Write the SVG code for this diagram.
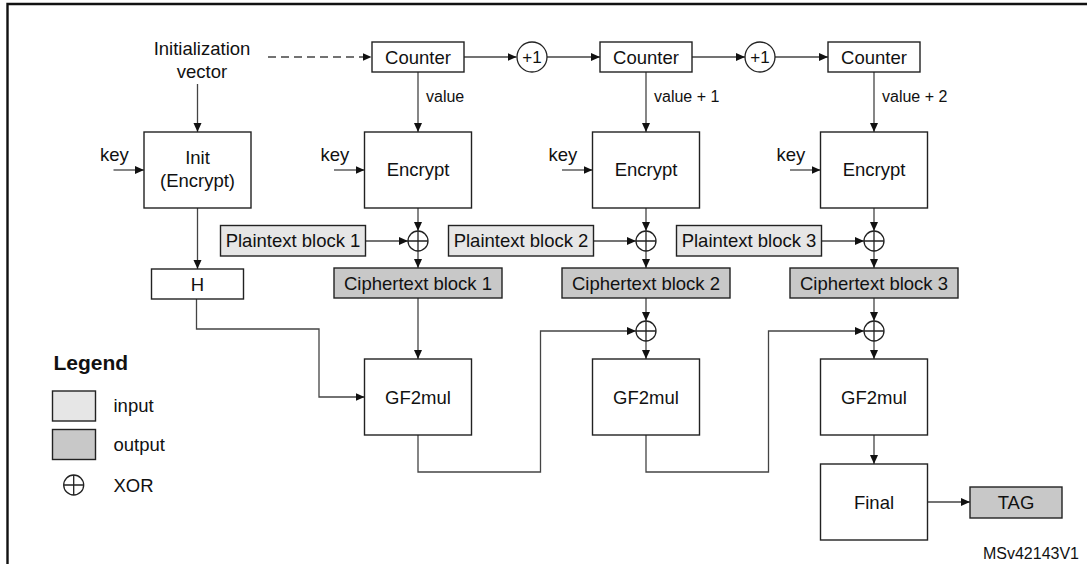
<svg xmlns="http://www.w3.org/2000/svg" width="1087" height="564" viewBox="0 0 1087 564">
<style>
text{font-family:"Liberation Sans",Arial,sans-serif;font-size:18.5px;fill:#111}
.c{text-anchor:middle}
.s{font-size:16px}
.p{font-size:17px}
.box{fill:#fff;stroke:#222;stroke-width:1.4}
.in{fill:#e6e6e6;stroke:#222;stroke-width:1.4}
.out{fill:#c8c8c8;stroke:#222;stroke-width:1.4}
.x{fill:none;stroke:#222;stroke-width:1.3}
.ln{fill:none;stroke:#444;stroke-width:1.3}
.ar{fill:none;stroke:#444;stroke-width:1.3;marker-end:url(#ah)}
</style>
<defs>
<marker id="ah" markerUnits="userSpaceOnUse" markerWidth="10" markerHeight="9" refX="9" refY="4" orient="auto">
<path d="M0,0 L9,4 L0,8 z" fill="#111"/>
</marker>
<g id="xor"><circle r="10" class="x"/><path d="M-10,0 H10 M0,-10 V10" class="x"/></g>
</defs>
<rect width="1087" height="564" fill="#fff"/>
<path d="M7.5,564 V4 H1087" fill="none" stroke="#111" stroke-width="2.4"/>

<g id="connectors">
<path d="M268,57 H371.5" class="ar" stroke-dasharray="8,5"/>
<path d="M463.5,57 H516.5" class="ar"/>
<path d="M547,57 H600" class="ar"/>
<path d="M692,57 H745" class="ar"/>
<path d="M775,57 H828" class="ar"/>
<path d="M418,72 V132" class="ar"/>
<path d="M646,72 V132" class="ar"/>
<path d="M874,72 V132" class="ar"/>
<path d="M197.5,84 V132" class="ar"/>
<path d="M113.5,170 H144" class="ar"/>
<path d="M334,170 H364.5" class="ar"/>
<path d="M562,170 H592.5" class="ar"/>
<path d="M790,170 H820.5" class="ar"/>
<path d="M418,208 V231" class="ar"/>
<path d="M646,208 V231" class="ar"/>
<path d="M874,208 V231" class="ar"/>
<path d="M365.5,241 H408" class="ar"/>
<path d="M593.5,241 H636" class="ar"/>
<path d="M821.5,241 H864" class="ar"/>
<path d="M418,251 V268" class="ar"/>
<path d="M646,251 V268" class="ar"/>
<path d="M874,251 V268" class="ar"/>
<path d="M197.5,208 V269" class="ar"/>
<path d="M196.5,299 V329 H319 V397 H364.5" class="ar"/>
<path d="M418,298 V359" class="ar"/>
<path d="M646,298 V321" class="ar"/>
<path d="M646,341 V359" class="ar"/>
<path d="M874,298 V321" class="ar"/>
<path d="M874,341 V359" class="ar"/>
<path d="M418,435 V472 H540.5 V331 H636" class="ar"/>
<path d="M646,435 V472 H768.5 V331 H864" class="ar"/>
<path d="M874,435 V464" class="ar"/>
<path d="M927.5,502 H970" class="ar"/>
</g>

<g id="iv"><text x="202" y="55" class="c">Initialization</text><text x="202" y="78" class="c">vector</text></g>

<g id="counter1"><rect x="372" y="42" width="92" height="30" class="box"/><text x="418" y="63.5" class="c">Counter</text></g>
<g id="counter2"><rect x="600" y="42" width="92" height="30" class="box"/><text x="646" y="63.5" class="c">Counter</text></g>
<g id="counter3"><rect x="828" y="42" width="92" height="30" class="box"/><text x="874" y="63.5" class="c">Counter</text></g>

<g id="inc1"><circle cx="532" cy="57" r="15" class="x"/><text x="532" y="63" class="c p">+1</text></g>
<g id="inc2"><circle cx="760" cy="57" r="15" class="x"/><text x="760" y="63" class="c p">+1</text></g>

<g id="labels">
<text x="426" y="102" class="s">value</text>
<text x="654" y="102" class="s">value + 1</text>
<text x="882" y="102" class="s">value + 2</text>
<text x="100" y="161">key</text>
<text x="320.5" y="161">key</text>
<text x="548.5" y="161">key</text>
<text x="776.5" y="161">key</text>
</g>

<g id="init"><rect x="144" y="132" width="107" height="76" class="box"/><text x="197.5" y="164" class="c">Init</text><text x="197.5" y="187" class="c">(Encrypt)</text></g>
<g id="encrypt1"><rect x="364.5" y="132" width="107" height="76" class="box"/><text x="418" y="176" class="c">Encrypt</text></g>
<g id="encrypt2"><rect x="592.5" y="132" width="107" height="76" class="box"/><text x="646" y="176" class="c">Encrypt</text></g>
<g id="encrypt3"><rect x="820.5" y="132" width="107" height="76" class="box"/><text x="874" y="176" class="c">Encrypt</text></g>

<g id="plain1"><rect x="220.5" y="225.5" width="145" height="30.5" class="in"/><text x="293" y="247" class="c">Plaintext block 1</text></g>
<g id="plain2"><rect x="448.5" y="225.5" width="145" height="30.5" class="in"/><text x="521" y="247" class="c">Plaintext block 2</text></g>
<g id="plain3"><rect x="676.5" y="225.5" width="145" height="30.5" class="in"/><text x="749" y="247" class="c">Plaintext block 3</text></g>

<g id="xor1"><use href="#xor" x="418" y="241"/></g>
<g id="xor2"><use href="#xor" x="646" y="241"/></g>
<g id="xor3"><use href="#xor" x="874" y="241"/></g>

<g id="h"><rect x="151.5" y="269" width="92" height="30" class="box"/><text x="197.5" y="290.5" class="c">H</text></g>

<g id="cipher1"><rect x="334" y="268" width="168" height="30" class="out"/><text x="418" y="289.5" class="c">Ciphertext block 1</text></g>
<g id="cipher2"><rect x="562" y="268" width="168" height="30" class="out"/><text x="646" y="289.5" class="c">Ciphertext block 2</text></g>
<g id="cipher3"><rect x="790" y="268" width="168" height="30" class="out"/><text x="874" y="289.5" class="c">Ciphertext block 3</text></g>

<g id="xor4"><use href="#xor" x="646" y="331"/></g>
<g id="xor5"><use href="#xor" x="874" y="331"/></g>

<g id="gf1"><rect x="364.5" y="359" width="107" height="76" class="box"/><text x="418" y="403.5" class="c">GF2mul</text></g>
<g id="gf2"><rect x="592.5" y="359" width="107" height="76" class="box"/><text x="646" y="403.5" class="c">GF2mul</text></g>
<g id="gf3"><rect x="820.5" y="359" width="107" height="76" class="box"/><text x="874" y="403.5" class="c">GF2mul</text></g>

<g id="final"><rect x="820.5" y="464" width="107" height="76" class="box"/><text x="874" y="508.5" class="c">Final</text></g>
<g id="tag"><rect x="970" y="487" width="92" height="31" class="out"/><text x="1016" y="508.5" class="c">TAG</text></g>

<g id="legend">
<text x="53.5" y="369.5" style="font-weight:bold;font-size:21px">Legend</text>
<rect x="52.5" y="391" width="43" height="30" class="in"/>
<text x="113.5" y="412">input</text>
<rect x="52.5" y="429.5" width="43" height="30" class="out"/>
<text x="113.5" y="451">output</text>
<use href="#xor" x="73.7" y="485"/>
<text x="113.5" y="492">XOR</text>
</g>

<text x="1079" y="559" style="font-size:16px;text-anchor:end">MSv42143V1</text>
</svg>
